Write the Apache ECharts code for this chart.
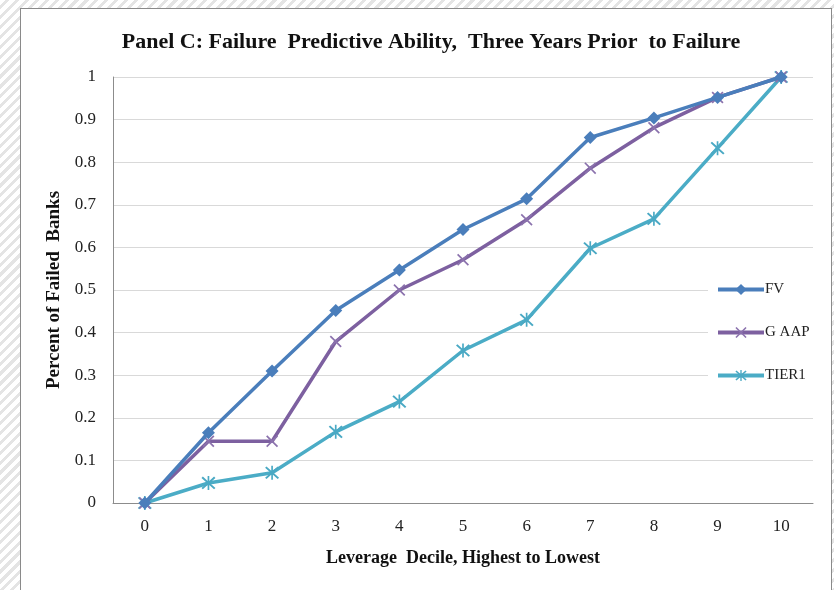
<!DOCTYPE html>
<html>
<head>
<meta charset="utf-8">
<script src="https://cdn.jsdelivr.net/npm/echarts@6/dist/echarts.min.js"></script>
<style>
	html, body { margin:0; padding:0; }
	body {
		width:834px; height:590px; overflow:hidden;
		background: repeating-linear-gradient(135deg, #ffffff 0px, #ffffff 4px, #e4e4e4 4px, #e4e4e4 7px);
	}
	#frame {
		position:absolute; left:20px; top:8px; width:812px; height:590px;
		background:#fff; border:1px solid #8a8a8a; box-sizing:border-box;
	}
	#chart { position:absolute; left:0; top:0; width:834px; height:590px; }
</style>
</head>
<body>
<div id="frame"></div>
<div id="chart"></div>
<script type="text/javascript">
	var deciles = ['0','1','2','3','4','5','6','7','8','9','10'];
	var fv    = [0, 0.165, 0.31, 0.452, 0.547, 0.642, 0.714, 0.858, 0.904, 0.952, 1.0];
	var gaap  = [0, 0.145, 0.145, 0.379, 0.5, 0.571, 0.665, 0.786, 0.881, 0.952, 1.0];
	var tier1 = [0, 0.047, 0.071, 0.167, 0.238, 0.358, 0.43, 0.598, 0.667, 0.833, 1.0];

	var xMark = 'path://M0,1 L1,0 L5,4 L9,0 L10,1 L6,5 L10,9 L9,10 L5,6 L1,10 L0,9 L4,5 Z';
	var starMark = 'path://M0,1.5 L1,0.5 L5,4.5 L9,0.5 L10,1.5 L6,5.5 L10,9.5 L9,10.5 L5,6.5 L1,10.5 L0,9.5 L4,5.5 Z M4.4,0 L5.6,0 L5.6,11 L4.4,11 Z';
	var font = '"Liberation Serif", "Times New Roman", serif';

	var chart = echarts.init(document.getElementById('chart'));
	var option = {
		backgroundColor: 'transparent',
		animation: false,
		title: {
			text: 'Panel C: Failure  Predictive Ability,  Three Years Prior  to Failure',
			left: 426, top: 26, textAlign: 'center',
			textStyle: { fontFamily: font, fontSize: 22, fontWeight: 'bold', color: '#111' }
		},
		grid: { left: 113, right: 21, top: 77, bottom: 87 },
		legend: {
			orient: 'vertical',
			left: 708, top: 276,
			itemWidth: 46, itemHeight: 14, itemGap: 28,
			backgroundColor: '#fff',
			padding: [6, 14, 16, 8],
			lineStyle: { width: 4 },
			textStyle: { fontFamily: font, fontSize: 15, color: '#222', padding: [0, 0, 0, -4] },
			data: ['FV', 'G AAP', 'TIER1']
		},
		xAxis: {
			type: 'category',
			data: deciles,
			boundaryGap: true,
			name: 'Leverage  Decile, Highest to Lowest',
			nameLocation: 'middle', nameGap: 46,
			nameTextStyle: { fontFamily: font, fontSize: 18, fontWeight: 'bold', color: '#111' },
			axisLine: { lineStyle: { color: '#8c8c8c', width: 1 } },
			axisTick: { show: false },
			axisLabel: { fontFamily: font, fontSize: 17, color: '#222', margin: 15 }
		},
		yAxis: {
			type: 'value',
			min: 0, max: 1, interval: 0.1,
			name: 'Percent of Failed  Banks',
			nameLocation: 'middle', nameGap: 47,
			nameTextStyle: { fontFamily: font, fontSize: 19, fontWeight: 'bold', color: '#111' },
			axisLine: { show: true, lineStyle: { color: '#8c8c8c', width: 1 } },
			axisTick: { show: false },
			splitLine: { lineStyle: { color: '#d9d9d9', width: 1 } },
			axisLabel: {
				fontFamily: font, fontSize: 17, color: '#222', margin: 17,
				formatter: function (v) { return String(Math.round(v * 10) / 10); }
			}
		},
		series: [
			{
				name: 'FV', type: 'line', data: fv,
				symbol: 'diamond', symbolSize: 13, showAllSymbol: true,
				itemStyle: { color: '#4a7ebb' },
				lineStyle: { color: '#4a7ebb', width: 3.5 },
				z: 4
			},
			{
				name: 'G AAP', type: 'line', data: gaap,
				symbol: xMark, symbolSize: 12, showAllSymbol: true,
				itemStyle: { color: '#8b72ad' },
				lineStyle: { color: '#7d60a0', width: 3.5 },
				z: 3
			},
			{
				name: 'TIER1', type: 'line', data: tier1,
				symbol: starMark, symbolSize: 14, showAllSymbol: true,
				itemStyle: { color: '#4aa9c4' },
				lineStyle: { color: '#4bacc6', width: 3.5 },
				z: 2
			}
		]
	};
	chart.setOption(option);
</script>
</body>
</html>
